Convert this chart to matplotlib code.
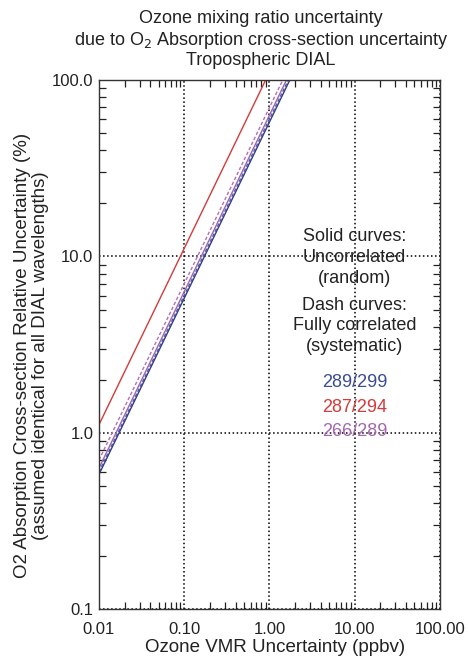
import matplotlib
matplotlib.use('Agg')
import matplotlib.pyplot as plt
from matplotlib.ticker import LogLocator, FixedLocator, FixedFormatter, NullFormatter

plt.rcParams['font.family'] = ['Liberation Sans', 'DejaVu Sans']

# curves: (x at left edge, x where y reaches 100)
red_x = [0.01, 0.90]
red_y = [1.11, 100.0]
purple_dash_x = [0.01, 1.43]
purple_dash_y = [0.70, 100.0]
purple_x = [0.01, 1.58]
purple_y = [0.63, 100.0]
blue_dash_x = [0.01, 1.66]
blue_dash_y = [0.60, 100.0]
blue_x = [0.01, 1.73]
blue_y = [0.58, 100.0]

pair_labels = ['289/299', '287/294', '266/289']
pair_colors = ['#3c4c94', '#d43a3a', '#a466ae']

x_ticks = [0.01, 0.1, 1, 10, 100]
x_labels = ['0.01', '0.10', '1.00', '10.00', '100.00']
y_ticks = [0.1, 1, 10, 100]
y_labels = ['0.1', '1.0', '10.0', '100.0']

fig = plt.figure(figsize=(4.68, 6.68), dpi=100)
ax = fig.add_axes([0.2115, 0.0883, 0.7285, 0.7917])

ax.plot(red_x, red_y, color='#d43a3a', lw=1.0)
ax.plot(purple_dash_x, purple_dash_y, color='#b070b8', lw=1.0, ls=(0, (2.5, 1.5)))
ax.plot(purple_x, purple_y, color='#9a66b0', lw=1.0)
ax.plot(blue_dash_x, blue_dash_y, color='#5a5aa8', lw=1.0, ls=(0, (2.5, 1.5)))
ax.plot(blue_x, blue_y, color='#303c88', lw=1.0)

ax.set_xscale('log')
ax.set_yscale('log')
ax.set_xlim(0.01, 100)
ax.set_ylim(0.1, 100)

ax.xaxis.set_major_locator(FixedLocator(x_ticks))
ax.xaxis.set_major_formatter(FixedFormatter(x_labels))
ax.yaxis.set_major_locator(FixedLocator(y_ticks))
ax.yaxis.set_major_formatter(FixedFormatter(y_labels))
ax.xaxis.set_minor_locator(LogLocator(base=10, subs=range(2, 10)))
ax.yaxis.set_minor_locator(LogLocator(base=10, subs=range(2, 10)))
ax.xaxis.set_minor_formatter(NullFormatter())
ax.yaxis.set_minor_formatter(NullFormatter())
ax.tick_params(which='both', direction='in', top=True, right=True, labelsize=12, colors='#222222')
ax.tick_params(which='major', length=0)
ax.tick_params(axis='x', which='major', pad=9)
ax.tick_params(axis='y', which='major', pad=4)
ax.tick_params(which='minor', length=5, width=0.9)

ax.grid(True, which='major', color='black', ls=':', lw=1.1)
for s in ax.spines.values():
    s.set_linewidth(1.0)
    s.set_color('#333333')

# annotation text
ax.text(10, 9.87, 'Solid curves:\nUncorrelated\n(random)', ha='center', va='center',
        fontsize=13, linespacing=1.28, color='#222222')
ax.text(10, 4.05, 'Dash curves:\nFully correlated\n(systematic)', ha='center', va='center',
        fontsize=13, linespacing=1.28, color='#222222')
label_y = [1.92, 1.39, 1.01]
for lab, c, yy in zip(pair_labels, pair_colors, label_y):
    ax.text(10, yy, lab, ha='center', va='center', fontsize=13, color=c)

fig.text(0.588, 0.031, 'Ozone VMR Uncertainty (ppbv)', ha='center', va='center', fontsize=13.5, color='#222222')
fig.text(0.068, 0.468, 'O2 Absorption Cross-section Relative Uncertainty (%)\n(assumed identical for all DIAL wavelengths)',
         ha='center', va='center', rotation=90, fontsize=13.5, linespacing=1.05, color='#222222')

cx = 0.558
fig.text(cx, 0.9716, 'Ozone mixing ratio uncertainty', ha='center', va='center', fontsize=13, color='#222222')
fig.text(cx, 0.940, 'due to O$_2$ Absorption cross-section uncertainty', ha='center', va='center', fontsize=13, color='#222222')
fig.text(cx, 0.9087, 'Tropospheric DIAL', ha='center', va='center', fontsize=13, color='#222222')

plt.savefig('out.png', dpi=100)
